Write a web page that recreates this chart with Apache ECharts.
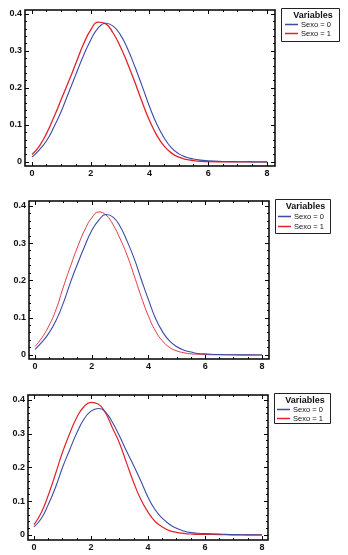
<!DOCTYPE html>
<html>
<head>
<meta charset="utf-8">
<script src="https://cdn.jsdelivr.net/npm/echarts@6/dist/echarts.min.js"></script>
<style>
html,body{margin:0;padding:0;background:#fff;}
#c{width:348px;height:555px;}
</style>
</head>
<body>
<div id="c"></div>
<script>
const xs = [0,0.25,0.5,0.75,1,1.25,1.5,1.75,2,2.25,2.5,2.75,3,3.25,3.5,3.75,4,4.25,4.5,4.75,5,5.25,5.5,5.75,6,6.5,7,7.5,8];

const p1Sexo0 = [0.013,0.033,0.058,0.095,0.138,0.188,0.238,0.287,0.330,0.362,0.375,0.368,0.345,0.307,0.258,0.205,0.150,0.102,0.065,0.038,0.022,0.013,0.008,0.005,0.003,0.0015,0.0008,0.0004,0.0002];
const p1Sexo1 = [0.020,0.043,0.078,0.122,0.170,0.218,0.268,0.318,0.357,0.378,0.374,0.350,0.313,0.267,0.216,0.162,0.112,0.072,0.043,0.024,0.013,0.007,0.004,0.002,0.001,0.0005,0.0002,0.0001,0.0001];

const p2Sexo0 = [0.015,0.035,0.060,0.094,0.140,0.195,0.245,0.292,0.334,0.362,0.377,0.370,0.345,0.305,0.258,0.202,0.148,0.098,0.062,0.037,0.022,0.013,0.008,0.004,0.003,0.0012,0.0006,0.0003,0.0002];
const p2Sexo1 = [0.023,0.047,0.080,0.124,0.183,0.238,0.290,0.335,0.368,0.384,0.376,0.350,0.312,0.267,0.212,0.155,0.104,0.064,0.037,0.020,0.011,0.006,0.003,0.002,0.001,0.0005,0.0002,0.0001,0.0001];

const p3Sexo0 = [0.024,0.048,0.090,0.140,0.200,0.252,0.302,0.343,0.367,0.375,0.365,0.334,0.293,0.248,0.205,0.160,0.112,0.075,0.050,0.032,0.020,0.012,0.007,0.005,0.004,0.003,0.001,0.0005,0.0002];
const p3Sexo1 = [0.031,0.065,0.118,0.180,0.245,0.300,0.348,0.380,0.393,0.388,0.363,0.318,0.272,0.213,0.155,0.105,0.068,0.040,0.024,0.013,0.008,0.005,0.003,0.002,0.002,0.001,0.0005,0.0002,0.0001];

const xTicks = [0,2,4,6,8];
const yTicks = [0,0.1,0.2,0.3,0.4];
const seriesNames = ['Sexo = 0','Sexo = 1'];
const legendTitle = 'Variables';

const FONT = 'Liberation Sans, Arial, sans-serif';
const BLUE = '#3b4ba6';
const RED = '#e0232a';

const panels = [
  {grid:{left:32,top:14,width:235,height:148}, frame:[25,10,250,156], off:{l:7,r:8,t:4,b:4},
   leg:{box:[281,8,58,33], titleY:16, left:285, top:20, gap:0}, data:[p1Sexo0,p1Sexo1], redW:1.3},
  {grid:{left:35,top:206,width:227,height:149}, frame:[29,201,240,158], off:{l:6,r:7,t:5,b:4},
   leg:{box:[275,199,55,34], titleY:207, left:278, top:212, gap:1}, data:[p2Sexo0,p2Sexo1], redW:0.9},
  {grid:{left:34,top:400,width:228,height:135}, frame:[28,395,240,145], off:{l:6,r:6,t:5,b:5},
   leg:{box:[274,393,56,30], titleY:401, left:277, top:405, gap:0}, data:[p3Sexo0,p3Sexo1], redW:1.2}
];

const grids=[], xAxes=[], yAxes=[], series=[], legends=[], graphics=[];
const tickStyle = {show:true, inside:true, length:4, lineStyle:{color:'#000', width:1}};
const minorStyle = {show:true, length:2, lineStyle:{color:'#000', width:1}};
const lbl = {color:'#111', fontFamily:FONT, fontWeight:'bold', fontSize:9};
const noLine = {show:false, onZero:false};

panels.forEach((p,i)=>{
  grids.push(Object.assign({}, p.grid));
  const xb = xAxes.length;
  xAxes.push({type:'value', gridIndex:i, position:'bottom', min:0, max:8, interval:2, offset:p.off.b,
    axisLine:noLine, axisTick:tickStyle, minorTick:Object.assign({splitNumber:4},minorStyle),
    splitLine:{show:false}, axisLabel:Object.assign({margin:3, formatter:v=>xTicks.includes(v)?String(v):''}, lbl)});
  xAxes.push({type:'value', gridIndex:i, position:'top', min:0, max:8, interval:2, offset:p.off.t,
    axisLine:noLine, axisTick:tickStyle, minorTick:Object.assign({splitNumber:4},minorStyle),
    splitLine:{show:false}, axisLabel:{show:false}});
  const yb = yAxes.length;
  yAxes.push({type:'value', gridIndex:i, position:'left', min:0, max:0.4, interval:0.1, offset:p.off.l,
    axisLine:noLine, axisTick:tickStyle, minorTick:Object.assign({splitNumber:5},minorStyle),
    splitLine:{show:false}, axisLabel:Object.assign({margin:3, formatter:v=>{const t=yTicks.find(k=>Math.abs(k-v)<1e-9);return t===undefined?'':String(t);}}, lbl)});
  yAxes.push({type:'value', gridIndex:i, position:'right', min:0, max:0.4, interval:0.1, offset:p.off.r,
    axisLine:noLine, axisTick:tickStyle, minorTick:Object.assign({splitNumber:5},minorStyle),
    splitLine:{show:false}, axisLabel:{show:false}});
  p.data.forEach((arr,k)=>{
    series.push({type:'line', name:seriesNames[k], xAxisIndex:xb, yAxisIndex:yb,
      data: xs.map((x,j)=>[x,arr[j]]), showSymbol:false, smooth:true, clip:false,
      lineStyle:{color:k===0?BLUE:RED, width:k===0?1.1:p.redW}, itemStyle:{color:k===0?BLUE:RED},
      z:k===0?3:2, silent:true});
  });
  legends.push({data:seriesNames, orient:'vertical', left:p.leg.left, top:p.leg.top, itemGap:p.leg.gap,
    itemWidth:13, itemHeight:1.5, icon:'rect', selectedMode:false, padding:0,
    textStyle:{fontFamily:FONT, fontSize:7.5, lineHeight:9, color:'#111', padding:[0,0,0,-2]}});
  const b=p.leg.box;
  graphics.push({type:'rect', shape:{x:b[0]+0.5,y:b[1]+0.5,width:b[2],height:b[3]}, style:{fill:'#fff', stroke:'#222', lineWidth:1}, z:-1});
  graphics.push({type:'text', x:b[0]+b[2]/2+3, y:p.leg.titleY, style:{text:legendTitle, fill:'#111', font:'bold 9px '+FONT, textAlign:'center', textVerticalAlign:'middle'}});
  const f=p.frame;
  graphics.push({type:'rect', shape:{x:f[0],y:f[1],width:f[2],height:f[3]}, style:{fill:'none', stroke:'#000', lineWidth:1.5}, z:10});
});

const chart = echarts.init(document.getElementById('c'), null, {renderer:'canvas'});
chart.setOption({
  animation:false,
  backgroundColor:'#fff',
  grid:grids, xAxis:xAxes, yAxis:yAxes, series:series, legend:legends,
  graphic:{elements:graphics}
});
</script>
</body>
</html>
